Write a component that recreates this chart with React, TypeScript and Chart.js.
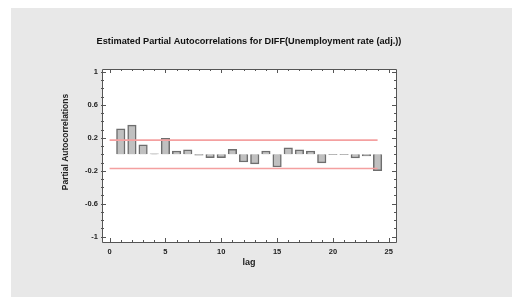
import React, { useEffect, useRef } from "react";
import { Chart, registerables } from "chart.js";

Chart.register(...registerables);

const lags = [1, 2, 3, 4, 5, 6, 7, 8, 9, 10, 11, 12, 13, 14, 15, 16, 17, 18, 19, 20, 21, 22, 23, 24];
const pacf = [0.31, 0.354, 0.115, 0.005, 0.195, 0.04, 0.053, -0.01, -0.04, -0.04, 0.06, -0.093, -0.117, 0.04, -0.154, 0.078, 0.053, 0.04, -0.105, -0.005, -0.005, -0.045, -0.02, -0.2];
const upperLimit = 0.172;
const lowerLimit = -0.172;
const limitLags = [0, 24];
const xTicks = [0, 5, 10, 15, 20, 25];
const yTicks = [-1, -0.6, -0.2, 0.2, 0.6, 1];
const titleText = "Estimated Partial Autocorrelations for DIFF(Unemployment rate (adj.))";
const xTitle = "lag";
const yTitle = "Partial Autocorrelations";

const FONT = "'Liberation Sans', Arial, sans-serif";

const framePlugin = {
  id: "framePlugin",
  beforeDraw(chart: any) {
    const ctx = chart.ctx;
    const a = chart.chartArea;
    ctx.save();
    ctx.fillStyle = "#ffffff";
    ctx.fillRect(0, 0, chart.width, chart.height);
    ctx.fillStyle = "#e8e8e8";
    ctx.fillRect(11, 8, chart.width - 11, chart.height - 10);
    ctx.fillStyle = "#ffffff";
    ctx.fillRect(a.left, a.top, a.right - a.left, a.bottom - a.top);
    ctx.restore();
  },
  afterDraw(chart: any) {
    const ctx = chart.ctx;
    const a = chart.chartArea;
    const xs = chart.scales.x;
    const ys = chart.scales.y;
    ctx.save();
    ctx.strokeStyle = "#555555";
    ctx.lineWidth = 1;
    ctx.beginPath();
    ctx.rect(Math.round(a.left) + 0.5, Math.round(a.top) + 0.5, Math.round(a.right - a.left), Math.round(a.bottom - a.top));
    ctx.stroke();
    ctx.beginPath();
    for (let v = 0; v <= 25; v++) {
      const px = Math.round(xs.getPixelForValue(v)) + 0.5;
      const len = v % 5 === 0 ? 4 : 2;
      ctx.moveTo(px, a.bottom + 1);
      ctx.lineTo(px, a.bottom - len);
      ctx.moveTo(px, a.top);
      ctx.lineTo(px, a.top + len);
    }
    for (let i = -10; i <= 10; i++) {
      const v = i / 10;
      const py = Math.round(ys.getPixelForValue(v)) + 0.5;
      const len = (i + 10) % 4 === 0 ? 4 : 2;
      ctx.moveTo(a.left - 1, py);
      ctx.lineTo(a.left + len, py);
      ctx.moveTo(a.right, py);
      ctx.lineTo(a.right - len, py);
    }
    ctx.stroke();
    // titles
    ctx.fillStyle = "#111111";
    ctx.textAlign = "center";
    ctx.textBaseline = "middle";
    ctx.font = `bold 9.2px ${FONT}`;
    ctx.fillText(titleText, (a.left + a.right) / 2, 41);
    ctx.fillStyle = "#222222";
    ctx.font = `bold 9px ${FONT}`;
    ctx.fillText(xTitle, (a.left + a.right) / 2, 262.5);
    ctx.translate(66, 142);
    ctx.rotate(-Math.PI / 2);
    ctx.font = `bold 8.5px ${FONT}`;
    ctx.fillText(yTitle, 0, 0);
    ctx.restore();
  },
};

export default function App() {
  const ref = useRef<HTMLCanvasElement | null>(null);
  useEffect(() => {
    document.body.style.margin = "0";
    const canvas = ref.current!;
    const chart = new Chart(canvas, {
      type: "bar",
      data: {
        datasets: [
          {
            type: "line",
            data: limitLags.map((x) => ({ x, y: upperLimit })),
            borderColor: "#f4a0a0",
            borderWidth: 1.6,
            pointRadius: 0,
            order: 0,
          } as any,
          {
            type: "line",
            data: limitLags.map((x) => ({ x, y: lowerLimit })),
            borderColor: "#f4a0a0",
            borderWidth: 1.6,
            pointRadius: 0,
            order: 0,
          } as any,
          {
            type: "bar",
            data: lags.map((x, i) => ({ x, y: pacf[i] })),
            backgroundColor: "#c0c0c0",
            borderColor: "#6e6e6e",
            borderWidth: 1.5,
            barThickness: 8.5,
            order: 1,
          } as any,
        ],
      },
      options: {
        animation: false,
        responsive: false,
        layout: { padding: { left: 58, right: 116, top: 69, bottom: 27 } },
        plugins: {
          legend: { display: false },
          tooltip: { enabled: false },
          title: { display: false },
        },
        scales: {
          x: {
            type: "linear",
            offset: false,
            min: -0.68,
            max: 25.65,
            grid: { display: false, drawTicks: false },
            border: { display: false },
            ticks: { font: { family: FONT, size: 7.5, weight: "bold" }, color: "#222222", padding: 5, maxRotation: 0 },
            afterBuildTicks: (s: any) => { s.ticks = xTicks.map((v) => ({ value: v })); },
            afterFit: (s: any) => { s.height = 30; },
          },
          y: {
            type: "linear",
            min: -1.065,
            max: 1.036,
            grid: { display: false, drawTicks: false },
            border: { display: false },
            ticks: {
              font: { family: FONT, size: 7.5, weight: "bold" },
              color: "#222222",
              padding: 4,
              callback: (v: any) => String(Math.round(v * 10) / 10),
            },
            afterBuildTicks: (s: any) => { s.ticks = yTicks.map((v) => ({ value: v })); },
            afterFit: (s: any) => { s.width = 44; },
          },
        },
      },
      plugins: [framePlugin],
    } as any);
    return () => chart.destroy();
  }, []);
  return <canvas ref={ref} width={512} height={299} style={{ display: "block" }} />;
}
